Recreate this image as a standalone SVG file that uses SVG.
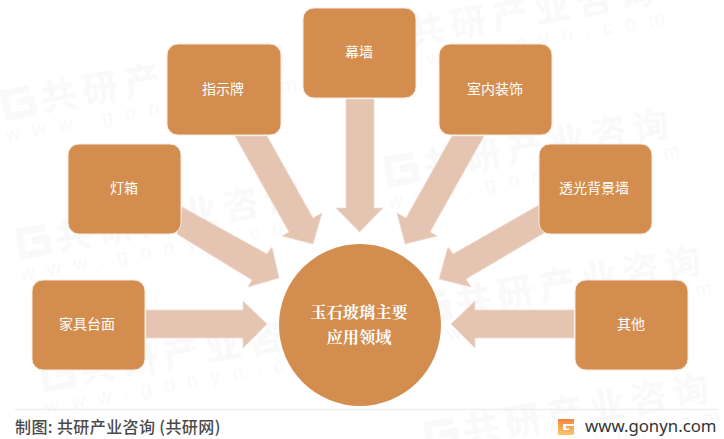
<svg xmlns="http://www.w3.org/2000/svg" width="724" height="439" viewBox="0 0 724 439">
<style>
.box{fill:#d38d4f;stroke:#f7ebdf;stroke-width:1}
.arr{fill:#e5c4b1;stroke:#efdccf;stroke-width:.8}
.lb{font:14px "Noto Sans CJK SC","Liberation Sans",sans-serif;fill:#fff;text-anchor:middle}
.ct{font:bold 16.300px "Noto Serif CJK SC","Noto Sans CJK SC",serif;fill:#fff;text-anchor:middle}
.wm{font:bold 36px "Noto Sans CJK SC",sans-serif;fill:#f9f9f9;letter-spacing:6.500px}
.wu{font:20px "Liberation Sans",sans-serif;fill:#f9f9f9;letter-spacing:12.500px}
.wl{fill:none;stroke:#f9f9f9;stroke-width:7}
</style>
<rect width="724" height="439" fill="#fff"/>
<defs>
<g id="wmk"><path class="wl" d="M-15 -12H15M-11 -12V12H15V-1H0"/><text class="wm" x="24" y="13">共研产业咨询</text><text class="wu" x="-17" y="36">www.gonyn.com</text></g>
<linearGradient id="lg" x1="0" y1="0" x2="0" y2="1"><stop offset="0" stop-color="#f4843a"/><stop offset="1" stop-color="#f9c773"/></linearGradient>
</defs>
<g id="watermarks">
<use href="#wmk" transform="translate(17 103) rotate(-10)"/>
<use href="#wmk" transform="translate(400 170) rotate(-10)"/>
<use href="#wmk" transform="translate(32 242) rotate(-10)"/>
<use href="#wmk" transform="translate(56 375) rotate(-10)"/>
<use href="#wmk" transform="translate(432 307) rotate(-10)"/>
<use href="#wmk" transform="translate(440 435) rotate(-10)"/>
<use href="#wmk" transform="translate(385 37) rotate(-10)"/>
</g>
<g id="connectors">
<polygon class="arr" points="146,310 243,310 243,301 267,324 243,348 243,338 146,338"/>
<polygon class="arr" points="574,310 475,310 475,301 451,324 475,348 475,338 574,338"/>
<polygon class="arr" points="346,99 374,99 374,208 383,208 359.500,232 336,208 346,208"/>
<polygon class="arr" points="235,136 267,136 313,218 322,213 313,244 282,236 289,232"/>
<polygon class="arr" points="484,136 452,136 406,218 397,213 405,244 437,236 430,232"/>
<polygon class="arr" points="182,207 267,254 272,247 279,278 248,287 252,280 177,234"/>
<polygon class="arr" points="539,205 453,254 448,247 439,279 471,287 466,279 544,233"/>
</g>
<g id="n-home"><rect class="box" x="32" y="280" width="113" height="90" rx="11"/><text class="lb" x="87" y="329">家具台面</text></g>
<g id="n-light"><rect class="box" x="68" y="144" width="113" height="90" rx="11"/><text class="lb" x="124" y="193">灯箱</text></g>
<g id="n-sign"><rect class="box" x="167" y="44" width="114" height="91" rx="11"/><text class="lb" x="223" y="94">指示牌</text></g>
<g id="n-wall"><rect class="box" x="303" y="8" width="113" height="90" rx="11"/><text class="lb" x="359" y="57">幕墙</text></g>
<g id="n-interior"><rect class="box" x="439" y="44" width="113" height="91" rx="11"/><text class="lb" x="495" y="94">室内装饰</text></g>
<g id="n-trans"><rect class="box" x="539" y="144" width="113" height="90" rx="11"/><text class="lb" x="594" y="193">透光背景墙</text></g>
<g id="n-other"><rect class="box" x="575" y="280" width="113" height="90" rx="11"/><text class="lb" x="631" y="329">其他</text></g>
<g id="n-center"><circle cx="360" cy="325" r="81" fill="#d38d4f"/><text class="ct" x="359" y="318">玉石玻璃主要</text><text class="ct" x="359" y="343">应用领域</text></g>
<g id="footer">
<line x1="15" y1="409.500" x2="718" y2="409.500" stroke="#eeeeee" stroke-width="1.500"/>
<text x="15" y="433" font-family="'Noto Sans CJK SC',sans-serif" font-size="16" font-weight="500" letter-spacing=".4" fill="#4a4a4a">制图: 共研产业咨询 (共研网)</text>
<path d="M558 419H574V424H563V430H569V428.500H566V426H574V435H558Z" fill="url(#lg)"/>
<text x="585" y="432" font-family="'Noto Sans','Liberation Sans',sans-serif" font-size="16.800" fill="#333333">www.gonyn.com</text>
</g>
</svg>
